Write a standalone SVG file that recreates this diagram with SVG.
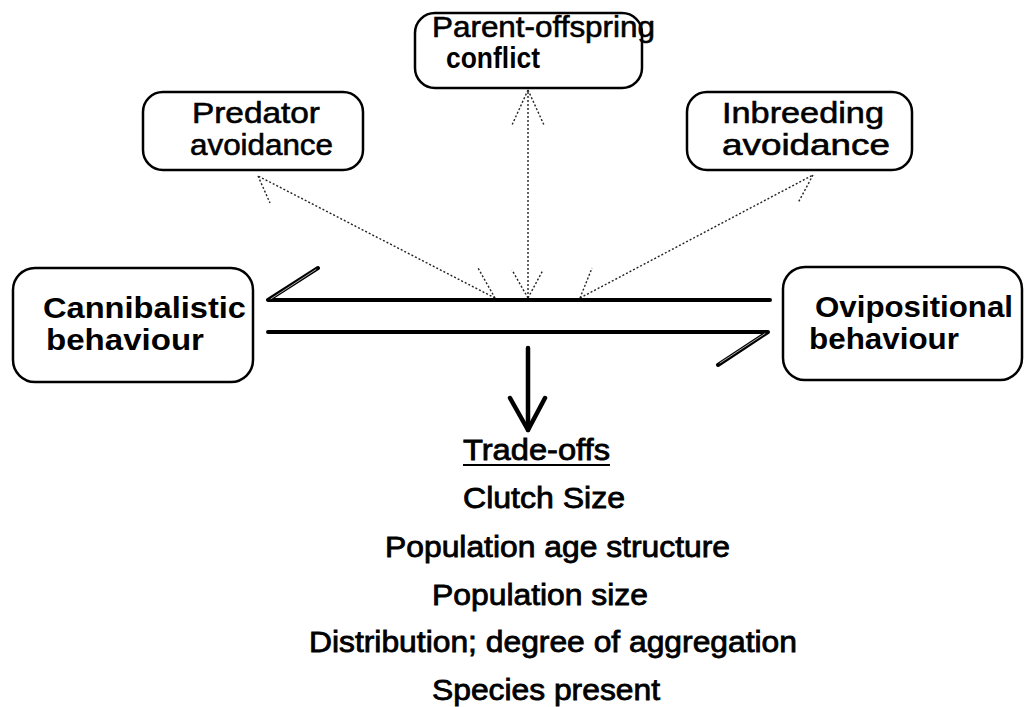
<svg xmlns="http://www.w3.org/2000/svg" width="1025" height="707" viewBox="0 0 1025 707">
<style>
.box{fill:#fff;stroke:#000;stroke-width:2.5}
.bt{font-family:"Liberation Sans",Arial,sans-serif;font-weight:bold;font-size:29px;fill:#000}
.nt{font-family:"Liberation Sans",Arial,sans-serif;font-size:30px;fill:#000;stroke:#000;stroke-width:0.6}
.tt{font-family:"Liberation Sans",Arial,sans-serif;font-size:29px;fill:#000;stroke:#000;stroke-width:0.8}
.dot{fill:none;stroke:#222;stroke-width:1.4;stroke-dasharray:2 2}
.dbl{fill:none;stroke:#000;stroke-width:4;stroke-linecap:round;stroke-linejoin:round}
.inn{fill:none;stroke:#aaa;stroke-width:1;stroke-linecap:round;stroke-linejoin:round}
.arr{fill:none;stroke:#000;stroke-width:4.5;stroke-linecap:round;stroke-linejoin:round}
</style>
<rect width="1025" height="707" fill="#fff"/>
<g id="connectors">
<line class="dot" x1="495" y1="298" x2="258" y2="176"/>
<line class="dot" x1="258" y1="176" x2="270" y2="203"/>
<line class="dot" x1="495" y1="298" x2="478" y2="268"/>
<line class="dot" x1="528" y1="298" x2="528" y2="90"/>
<line class="dot" x1="528" y1="90" x2="512" y2="125"/>
<line class="dot" x1="528" y1="90" x2="544" y2="125"/>
<line class="dot" x1="528" y1="298" x2="512" y2="270"/>
<line class="dot" x1="528" y1="298" x2="543" y2="270"/>
<line class="dot" x1="580" y1="298" x2="813" y2="175"/>
<line class="dot" x1="813" y1="175" x2="798" y2="203"/>
<line class="dot" x1="580" y1="298" x2="592" y2="268"/>
<polyline class="dbl" points="318,268 268,300 770,300"/>
<polyline class="inn" points="316,269.5 271,298.8"/>
<polyline class="dbl" points="268,332 768,332 718,365"/>
<polyline class="inn" points="765,333.5 720,363"/>
<polyline class="arr" points="528,348 528,430"/>
<polyline class="arr" points="510,398 528,430 545,398"/>
</g>
<g id="node-cannibalistic">
<rect class="box" x="13" y="268" width="240" height="114" rx="22"/>
<text class="bt" x="43" y="318" textLength="203" lengthAdjust="spacingAndGlyphs">Cannibalistic</text>
<text class="bt" x="46" y="350" textLength="158" lengthAdjust="spacingAndGlyphs">behaviour</text>
</g>
<g id="node-ovipositional">
<rect class="box" x="783" y="267" width="239" height="113" rx="22"/>
<text class="bt" x="815" y="317" textLength="198" lengthAdjust="spacingAndGlyphs">Ovipositional</text>
<text class="bt" x="809" y="349" textLength="150" lengthAdjust="spacingAndGlyphs">behaviour</text>
</g>
<g id="node-predator">
<rect class="box" x="143" y="92" width="220" height="78" rx="20"/>
<text class="nt" x="192" y="123" textLength="128" lengthAdjust="spacingAndGlyphs">Predator</text>
<text class="nt" x="190" y="155" textLength="143" lengthAdjust="spacingAndGlyphs">avoidance</text>
</g>
<g id="node-parent">
<rect class="box" x="415" y="13" width="227" height="75" rx="20"/>
<text class="nt" x="432" y="37" textLength="223" lengthAdjust="spacingAndGlyphs">Parent-offspring</text>
<text class="bt" x="446" y="68" font-size="28" textLength="94" lengthAdjust="spacingAndGlyphs">conflict</text>
</g>
<g id="node-inbreeding">
<rect class="box" x="687" y="92" width="225" height="78" rx="20"/>
<text class="nt" x="722" y="123" textLength="162" lengthAdjust="spacingAndGlyphs">Inbreeding</text>
<text class="nt" x="722" y="155" textLength="168" lengthAdjust="spacingAndGlyphs">avoidance</text>
</g>
<g id="node-tradeoffs">
<text class="tt" x="463" y="460" textLength="147" lengthAdjust="spacingAndGlyphs">Trade-offs</text>
<line x1="463" y1="465" x2="610" y2="465" stroke="#000" stroke-width="2.2"/>
<text class="tt" x="463" y="508" textLength="162" lengthAdjust="spacingAndGlyphs">Clutch Size</text>
<text class="tt" x="385" y="557" textLength="345" lengthAdjust="spacingAndGlyphs">Population age structure</text>
<text class="tt" x="432" y="605" textLength="216" lengthAdjust="spacingAndGlyphs">Population size</text>
<text class="tt" x="309" y="652" textLength="488" lengthAdjust="spacingAndGlyphs">Distribution; degree of aggregation</text>
<text class="tt" x="432" y="700" textLength="228" lengthAdjust="spacingAndGlyphs">Species present</text>
</g>
</svg>
